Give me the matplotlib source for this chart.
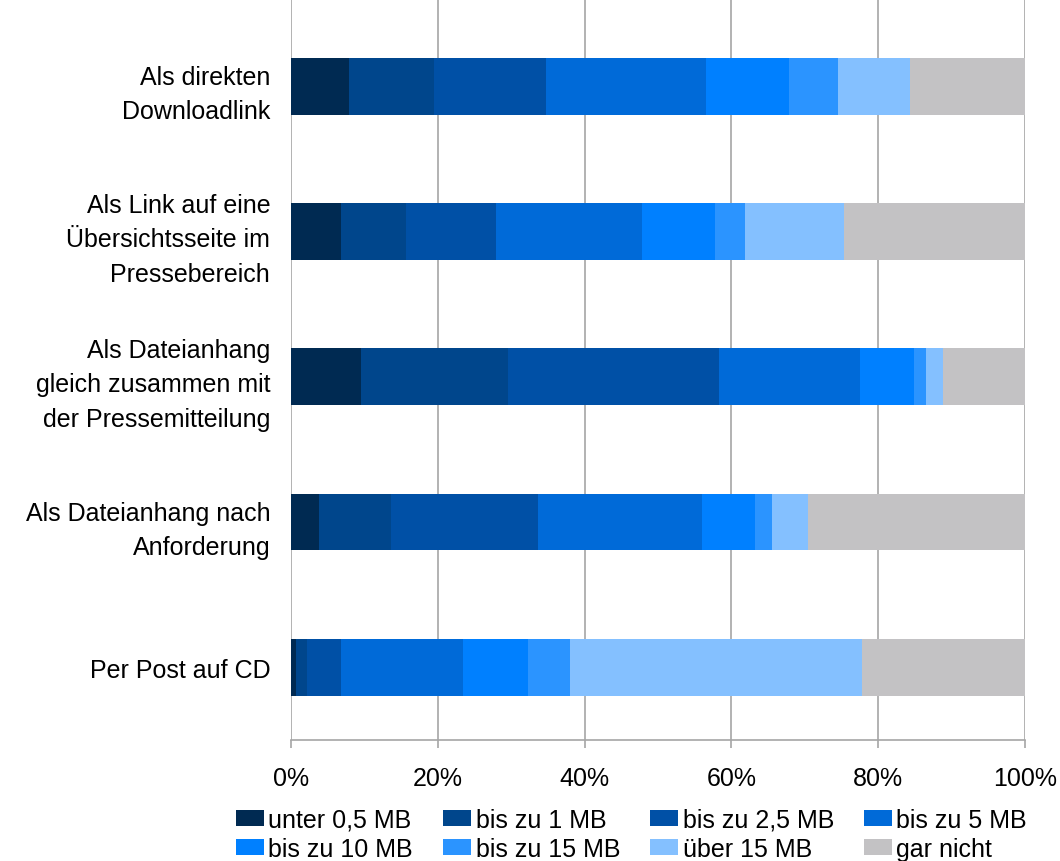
import matplotlib
matplotlib.use("Agg")
import matplotlib.pyplot as plt
from matplotlib.patches import Patch
import numpy as np

plt.rcParams['font.family'] = ['Liberation Sans', 'DejaVu Sans']

categories = [
    "Als direkten\nDownloadlink",
    "Als Link auf eine\nÜbersichtsseite im\nPressebereich",
    "Als Dateianhang\ngleich zusammen mit\nder Pressemitteilung",
    "Als Dateianhang nach\nAnforderung",
    "Per Post auf CD",
]
sizes = ["unter 0,5 MB", "bis zu 1 MB", "bis zu 2,5 MB", "bis zu 5 MB",
         "bis zu 10 MB", "bis zu 15 MB", "über 15 MB", "gar nicht"]

# share in percent, one list per size class, in category order
unter_05 = [7.9, 6.8, 9.6, 3.8, 0.7]
bis_1 = [11.6, 8.9, 20.0, 9.8, 1.5]
bis_25 = [15.2, 12.2, 28.7, 20.0, 4.6]
bis_5 = [21.8, 19.9, 19.2, 22.4, 16.7]
bis_10 = [11.3, 9.9, 7.4, 7.2, 8.8]
bis_15 = [6.7, 4.1, 1.6, 2.3, 5.7]
ueber_15 = [9.8, 13.5, 2.3, 4.9, 39.8]
gar_nicht = [15.7, 24.7, 11.2, 29.6, 22.2]

series = [unter_05, bis_1, bis_25, bis_5, bis_10, bis_15, ueber_15, gar_nicht]
colors = ["#002a52", "#00468c", "#0050a6", "#006ad8",
          "#0080ff", "#2b94ff", "#84c0ff", "#c3c2c4"]

fig = plt.figure(figsize=(10.6, 8.62), dpi=100)
ax = fig.add_axes([291 / 1060, 121 / 862, 734 / 1060, 741 / 862])

# stacked horizontal bars, first category on top
y = np.arange(len(categories))[::-1]
left = np.zeros(len(categories))
for vals, col in zip(series, colors):
    ax.barh(y, vals, left=left, height=0.39, color=col, edgecolor='none', zorder=3)
    left += np.array(vals)

ax.set_xlim(0, 100)
ax.set_ylim(-0.5, 4.6)
ax.set_xticks(range(0, 101, 20))
ax.set_xticklabels([f"{v}%" for v in range(0, 101, 20)])
ax.set_yticks(y)
ax.set_yticklabels(categories, fontsize=18, ha='right', linespacing=1.55)

ax.grid(axis='x', color='#a6a6a6', linewidth=1.2, zorder=0)
for side in ['top', 'right', 'left']:
    ax.spines[side].set_visible(False)
ax.spines['bottom'].set_color('#a6a6a6')
ax.spines['bottom'].set_linewidth(1.2)
ax.tick_params(axis='x', colors='#a6a6a6', length=6, width=1.2, pad=13,
               labelsize=18, labelcolor='black')
ax.tick_params(axis='y', length=0, pad=15)

# legend filled row by row (4 columns, 2 rows)
handles = [Patch(facecolor=c, edgecolor='none') for c in colors]
order = [0, 4, 1, 5, 2, 6, 3, 7]
fig.legend([handles[i] for i in order], [sizes[i] for i in order],
           loc='upper left', bbox_to_anchor=(236 / 1060, 1 - 809 / 862),
           ncol=4, frameon=False, fontsize=18, borderpad=0, borderaxespad=0,
           handlelength=1.1, handleheight=0.6, handletextpad=0.2,
           columnspacing=1.2, labelspacing=0.2)

fig.savefig("out.png", dpi=100)
